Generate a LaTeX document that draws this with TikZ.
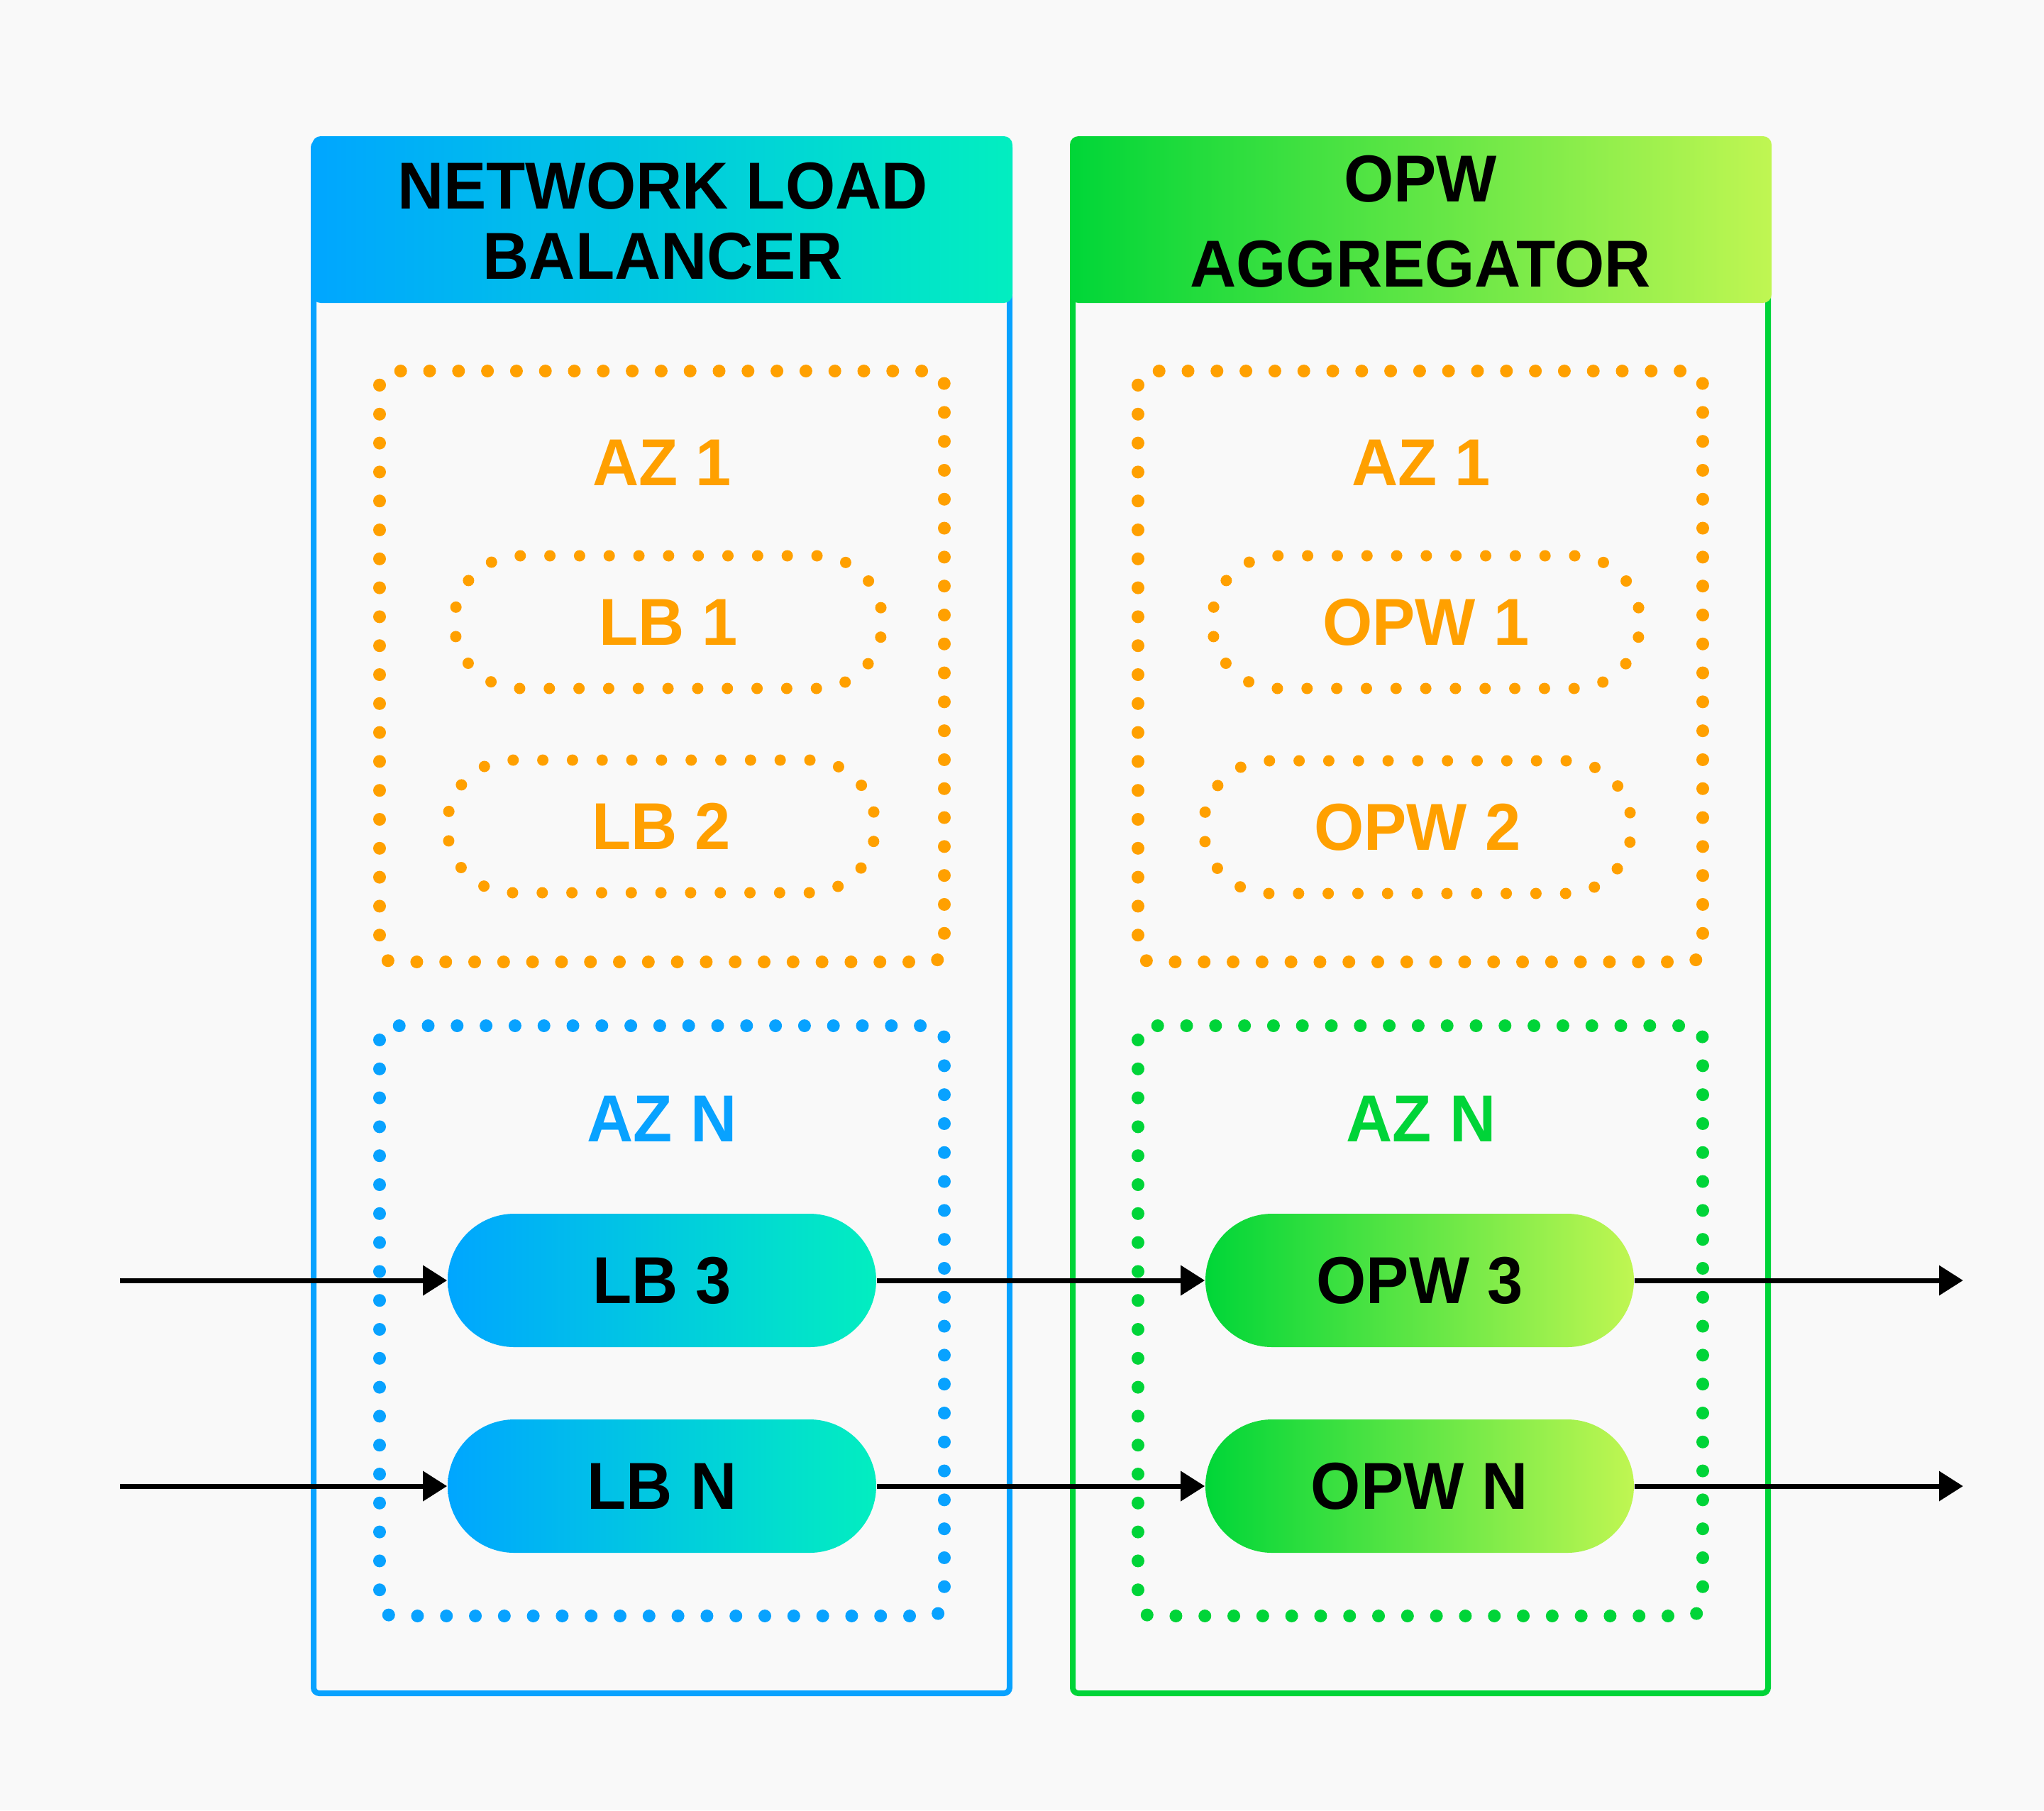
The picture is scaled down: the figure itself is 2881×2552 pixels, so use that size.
\documentclass[tikz,border=0pt]{standalone}
\usepackage{fontspec}
\setmainfont{Liberation Sans}[FakeStretch=0.965]
\usetikzlibrary{arrows.meta, positioning, shapes.geometric}

\definecolor{nlbblue}{RGB}{0,166,255}
\definecolor{nlbteal}{RGB}{2,238,192}
\definecolor{opwgreen}{RGB}{0,214,56}
\definecolor{opwlime}{RGB}{192,246,82}
\definecolor{azorange}{RGB}{255,160,0}
\definecolor{bgpaper}{RGB}{249,249,249}
\definecolor{lineblue}{RGB}{8,162,255}
\definecolor{linegreen}{RGB}{0,212,56}

\tikzset{
  lbl/.style={font=\fontsize{23.4}{28}\selectfont\bfseries},
  outerbox/.style={line width=2pt, rounded corners=2pt},
  azbox/.style={line width=4.5pt, line cap=round, dash pattern=on 0pt off 10.2pt, rounded corners=5pt},
  dotpill/.style={draw=azorange, line width=4pt, line cap=round, dash pattern=on 0pt off 10.456pt,
    rounded corners=23pt, minimum width=150.75pt, minimum height=46.75pt, inner sep=0pt, lbl, text=azorange},
  fillpill/.style={rounded corners=23.5pt, minimum width=151pt, minimum height=47pt, inner sep=0pt, lbl, text=black},
  flow/.style={line width=1.75pt, -{Triangle[length=8.5pt,width=10.25pt]}},
}

\begin{document}
\begin{tikzpicture}[x=0.25pt, y=-0.25pt]
    % Hintergrund
    \fill[bgpaper] (0,0) rectangle (2881,2552);

    % Container
    \draw[outerbox, lineblue] (442,200) rectangle (1423,2387);
    \draw[outerbox, linegreen] (1512,200) rectangle (2492,2387);
    \shade[left color=nlbblue, right color=nlbteal, rounded corners=3pt] (440,192) rectangle (1427,427);
    \shade[left color=opwgreen, right color=opwlime, rounded corners=3pt] (1508,192) rectangle (2497,427);
    \node[lbl] (nlbtitleA) at (934,262) {NETWORK LOAD};
    \node[lbl] (nlbtitleB) at (934,361) {BALANCER};
    \node[lbl] (opwtitleA) at (2002,252) {OPW};
    \node[lbl] (opwtitleB) at (2002,372) {AGGREGATOR};

    % Availability Zones
    \draw[azbox, azorange] (535,523) rectangle (1331,1356);
    \draw[azbox, lineblue] (535,1446) rectangle (1331,2278);
    \draw[azbox, azorange] (1604,523) rectangle (2400,1356);
    \draw[azbox, linegreen] (1604,1446) rectangle (2400,2278);
    \node[lbl, text=azorange] (nlbazA) at (933,652) {AZ 1};
    \node[lbl, text=lineblue] (nlbazN) at (933,1577) {AZ N};
    \node[lbl, text=azorange] (opwazA) at (2003,652) {AZ 1};
    \node[lbl, text=linegreen] (opwazN) at (2003,1577) {AZ N};

    % Instanzen
    \node[dotpill] (lb1) at (942,877) {LB 1};
    \node[dotpill] (lb2) at (932,1165) {LB 2};
    \node[dotpill] (opw1) at (2010,877) {OPW 1};
    \node[dotpill] (opw2) at (1998,1166) {OPW 2};
    \node[fillpill, left color=nlbblue, right color=nlbteal] (lb3) at (933,1805) {LB 3};
    \node[fillpill, left color=nlbblue, right color=nlbteal] (lbN) at (933,2095) {LB N};
    \node[fillpill, left color=opwgreen, right color=opwlime] (opw3) at (2001,1805) {OPW 3};
    \node[fillpill, left color=opwgreen, right color=opwlime] (opwN) at (2001,2095) {OPW N};

    % Verkehr
    \coordinate (in3) at (169,1805);
    \coordinate (inN) at (169,2095);
    \coordinate (out3) at (2767,1805);
    \coordinate (outN) at (2767,2095);
    \draw[flow] (in3) -- (lb3);
    \draw[flow] (lb3) -- (opw3);
    \draw[flow] (opw3) -- (out3);
    \draw[flow] (inN) -- (lbN);
    \draw[flow] (lbN) -- (opwN);
    \draw[flow] (opwN) -- (outN);
\end{tikzpicture}
\end{document}
